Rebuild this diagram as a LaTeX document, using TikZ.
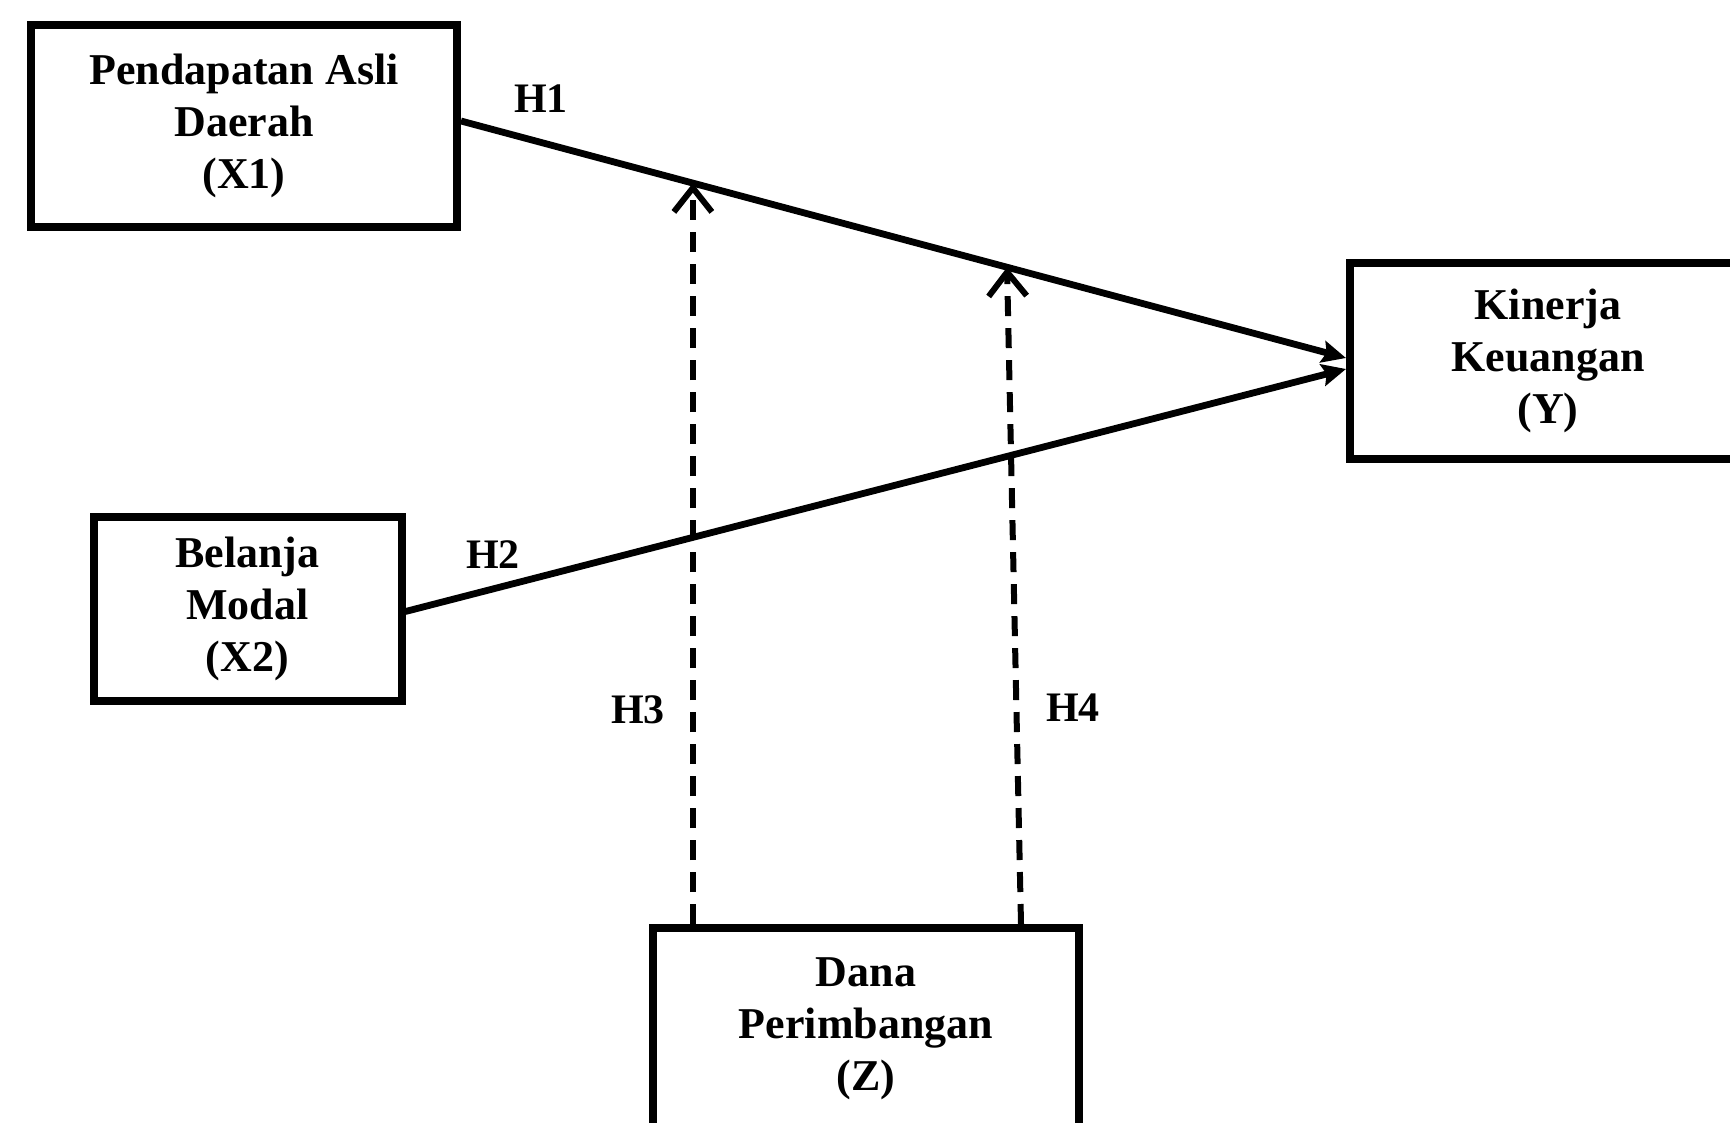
\documentclass[tikz,border=0pt]{standalone}
\usepackage{fontspec}
\setmainfont{Liberation Serif}
\usetikzlibrary{arrows.meta,positioning,calc}

\begin{document}
\begin{tikzpicture}[x=0.5pt, y=-0.5pt, semithick, font=\fontsize{22}{26}\selectfont\bfseries]
\tikzstyle{var}=[draw=black, line width=4pt, fill=white, align=center, inner sep=0pt]
\tikzstyle{hyp}=[line width=3.4pt, -{Stealth[length=12pt,width=11pt,inset=2pt]}]
\tikzstyle{mod}=[line width=3pt, dash pattern=on 10pt off 6pt, -{Straight Barb[length=12pt,width=19pt,line width=3pt]}]
\tikzstyle{lab}=[inner sep=1pt, font=\fontsize{21}{24}\selectfont\bfseries]
\useasboundingbox (0,0) rectangle (1730,1123);

\node[var, minimum width=213pt, minimum height=101pt] (X1) at (244,126) {Pendapatan Asli\\Daerah\\(X1)};
\node[var, minimum width=154pt, minimum height=92pt]  (X2) at (247.5,608.5) {Belanja\\Modal\\(X2)};
\node[var, minimum width=198pt, minimum height=98pt]  (Y)  at (1548,361) {Kinerja\\Keuangan\\(Y)};
\node[var, minimum width=213pt, minimum height=101pt] (Z)  at (866,1029) {Dana\\Perimbangan\\(Z)};

\coordinate (x1out) at ($(X1.east)+(0,-5)$);
\coordinate (x2out) at ($(X2.east)+(0,3)$);
\coordinate (yin1) at ($(Y.west)+(0,-3)$);
\coordinate (yin2) at ($(Y.west)+(0,8)$);
\path (x1out) -- (yin1) coordinate[pos=0.262] (m3) coordinate[pos=0.617] (m4);
\coordinate (z3) at (m3 |- Z.north);
\coordinate (z4) at ($(Z.north)+(155,0)$);

\path
(x1out) edge[hyp]     node{}         (yin1)
(x2out) edge[hyp]     node{}         (yin2)
(z3) edge[mod]     node{}         (m3)
(z4) edge[mod]     node{}         (m4);

\node[lab] (H1) at (541,99)  {H1};
\node[lab] (H2) at (493,555) {H2};
\node[lab] (H3) at (638,710) {H3};
\node[lab] (H4) at (1073,708) {H4};
\end{tikzpicture}
\end{document}
